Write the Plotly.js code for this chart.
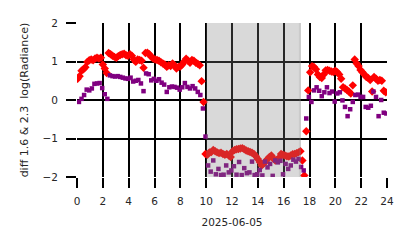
<!DOCTYPE html>
<html>
<head>
<meta charset="utf-8">
<script src="https://cdn.plot.ly/plotly-3.0.1.min.js"></script>
<style>html,body{margin:0;padding:0;background:#fff;}#chart{width:414px;height:248px;}</style>
</head>
<body>
<div id="chart"></div>
<script>
// Red series: diff 1.6 (sampled every 0.15 h starting 0.05 h)
const redStart = 0.05;
const redStep = 0.15;
const redValues = [
  0.55, 0.62, 0.76, 0.80, 0.85, 0.99, 1.03, 1.05, 1.03, 1.08,
  1.10, 1.08, 1.10, 0.92, 0.82, 0.70, 1.22, 1.19, 1.15, 1.12,
  1.10, 1.14, 1.17, 1.19, 1.20, 1.16, 1.15, 1.19, 1.15, 1.05,
  0.99, 1.05, 1.04, 1.02, 0.84, 1.22, 1.23, 1.19, 1.12, 1.08,
  1.05, 1.04, 1.02, 0.98, 0.95, 0.92, 0.86, 0.90, 0.88, 0.95,
  0.90, 0.82, 0.86, 0.87, 0.92, 1.00, 1.07, 1.02, 0.97, 1.04,
  1.02, 0.97, 0.94, 0.90, 0.49, -0.05, -1.40, -1.42, -1.36, -1.35,
  -1.30, -1.33, -1.36, -1.38, -1.37, -1.40, -1.42, -1.40, -1.44, -1.48,
  -1.33, -1.30, -1.28, -1.27, -1.26, -1.25, -1.28, -1.31, -1.33, -1.35,
  -1.37, -1.40, -1.46, -1.53, -1.61, -1.70, -1.65, -1.60, -1.53, -1.48,
  -1.44, -1.52, -1.57, -1.55, -1.50, -1.40, -1.42, -1.44, -1.46, -1.47,
  -1.44, -1.41, -1.40, -1.38, -1.36, -1.33, -1.57, -1.96, -0.81, 0.25,
  0.72, 0.88, 0.86, 0.80, 0.66, 0.60, 0.57, 0.66, 0.77, 0.78,
  0.76, 0.74, 0.73, 0.76, 0.72, 0.66, 0.55, 0.33, 0.30, 0.26,
  0.22, 0.17, 0.38, 1.05, 0.95, 0.88, 0.78, 0.72, 0.66, 0.60,
  0.57, 0.52, 0.22, 0.60, 0.55, 0.50, 0.52, 0.50, 0.24, 0.20
];
// Purple series: diff 2.3 (sampled every 0.2 h starting 0.15 h)
const purpleStart = 0.15;
const purpleStep = 0.2;
const purpleValues = [
  -0.05, 0.03, 0.13, 0.27, 0.25,
  0.30, 0.42, 0.43, 0.44, 0.31,
  0.15, 0.03, 0.64, 0.62, 0.61,
  0.62, 0.60, 0.58, 0.56, 0.55,
  0.58, 0.48, 0.50, 0.52, 0.43,
  0.23, 0.69, 0.67, 0.51, 0.55,
  0.50, 0.54, 0.45, 0.40, 0.21,
  0.33, 0.35, 0.34, 0.32, 0.27,
  0.33, 0.44, 0.34, 0.30, 0.36,
  0.30, 0.21, 0.13, -0.22, -0.95,
  -1.70, -1.86, -1.57, -1.93, -1.79,
  -1.95, -1.94, -1.70, -1.88, -1.83,
  -1.72, -1.94, -1.61, -1.95, -1.77,
  -1.90, -1.88, -1.60, -1.95, -1.93,
  -1.82, -1.96, -1.60, -1.75, -1.66,
  -1.97, -1.57, -1.62, -1.58, -1.93,
  -1.66, -1.79, -1.70, -1.55, -1.60,
  -1.53, -1.74, -1.83, -0.48, 0.08,
  -0.05, 0.25, 0.33, 0.24, 0.10,
  0.20, 0.33, 0.18, 0.22, -0.04,
  0.17, 0.20, -0.01, -0.18, -0.42,
  -0.24, -0.05, 0.13, 0.14, 0.08,
  0.08, -0.18, -0.20, -0.15, 0.22,
  0.08, -0.42, 0.00, -0.33, -0.35
];
// Shaded (night) interval in hours
const shadeStart = 10.0;
const shadeEnd = 17.34;
const shadeEdgeStart = 17.18;

const xTicks = [0, 2, 4, 6, 8, 10, 12, 14, 16, 18, 20, 22, 24];
const yTicks = [-2, -1, 0, 1, 2];
const xTitle = '2025-06-05';
const yTitle = 'diff 1.6 &amp; 2.3&nbsp; log(Radiance)';

const font = {family: 'DejaVu Sans, sans-serif', size: 10.5, color: '#262626'};

const traces = [
  {
    type: 'scatter', mode: 'markers',
    x0: redStart, dx: redStep, y: redValues,
    marker: {symbol: 'diamond', size: 6.5, color: '#ff0000', line: {width: 0}},
    hoverinfo: 'skip'
  },
  {
    type: 'scatter', mode: 'markers',
    x0: purpleStart, dx: purpleStep, y: purpleValues,
    marker: {symbol: 'square', size: 4.5, color: '#800080', line: {width: 0}},
    hoverinfo: 'skip'
  }
];

const axisCommon = {
  showgrid: true, gridcolor: '#000', gridwidth: 2,
  zeroline: false, showline: false,
  ticks: 'outside', ticklen: 10, tickwidth: 2, tickcolor: '#000',
  tickfont: font, automargin: false
};

const layout = {
  width: 414, height: 248,
  margin: {l: 77, r: 27, t: 23, b: 71, pad: 0},
  paper_bgcolor: '#fff', plot_bgcolor: '#fff',
  showlegend: false,
  font: font,
  xaxis: Object.assign({}, axisCommon, {
    range: [0, 24], tickvals: xTicks, ticktext: xTicks.map(String),
    ticklabelstandoff: 4,
    title: {text: xTitle, font: font, standoff: 13}
  }),
  yaxis: Object.assign({}, axisCommon, {
    range: [-2, 2], tickvals: yTicks,
    ticklabelstandoff: 6,
    title: {text: yTitle, font: Object.assign({}, font, {size: 11}), standoff: 11}
  }),
  shapes: [
    {type: 'rect', xref: 'x', yref: 'paper', x0: shadeStart, x1: shadeEnd, y0: 0, y1: 1,
     fillcolor: 'rgba(128,128,128,0.3)', line: {width: 0}, layer: 'above'},
    {type: 'rect', xref: 'x', yref: 'paper', x0: shadeEdgeStart, x1: shadeEnd, y0: 0, y1: 1,
     fillcolor: 'rgba(128,128,128,0.15)', line: {width: 0}, layer: 'above'}
  ]
};

Plotly.newPlot('chart', traces, layout, {staticPlot: true, displayModeBar: false});
</script>
</body>
</html>
